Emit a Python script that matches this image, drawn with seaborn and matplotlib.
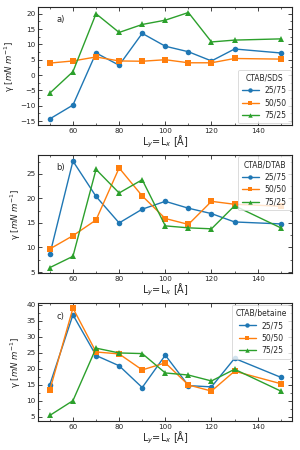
import numpy as np
import pandas as pd
import matplotlib
matplotlib.use("Agg")
import matplotlib.pyplot as plt
import seaborn as sns
from matplotlib.ticker import MultipleLocator

sns.set_style("ticks")
plt.rcParams['font.family'] = ['DejaVu Sans']
plt.rcParams['mathtext.fontset'] = 'dejavusans'

L = [50, 60, 70, 80, 90, 100, 110, 120, 130, 150]
ratios = ["25/75", "50/50", "75/25"]

sds_25_75 = [-14.3, -9.8, 7.2, 3.2, 13.6, 9.4, 7.6, 4.6, 8.5, 7.2]
sds_50_50 = [3.9, 4.6, 5.9, 4.6, 4.5, 5.0, 4.0, 4.0, 5.4, 5.2]
sds_75_25 = [-5.9, 1.1, 20.0, 13.9, 16.5, 17.9, 20.4, 10.8, 11.4, 11.8]

dtab_25_75 = [8.6, 27.6, 20.4, 15.0, 17.8, 19.4, 18.0, 16.9, 15.2, 14.8]
dtab_50_50 = [9.7, 12.4, 15.6, 26.2, 20.5, 15.9, 14.7, 19.4, 18.8, 18.4]
dtab_75_25 = [5.9, 8.2, 25.9, 21.1, 23.8, 14.4, 14.0, 13.8, 18.5, 14.0]

bet_25_75 = [15.1, 36.9, 24.2, 21.0, 14.2, 24.3, 14.8, 14.4, 23.3, 17.4]
bet_50_50 = [13.4, 39.0, 25.3, 24.7, 19.7, 21.9, 15.0, 13.1, 19.3, 15.4]
bet_75_25 = [5.5, 10.1, 26.5, 25.0, 24.8, 18.75, 18.1, 16.25, 19.9, 13.1]

panels = [
    ("a)", "CTAB/SDS", [sds_25_75, sds_50_50, sds_75_25], "lower right", (-16.3, 22.2), 5),
    ("b)", "CTAB/DTAB", [dtab_25_75, dtab_50_50, dtab_75_25], "upper right", (4.8, 28.9), 5),
    ("c)", "CTAB/betaine", [bet_25_75, bet_50_50, bet_75_25], "upper right", (3.75, 40.5), 5),
]

colors = ["#1f77b4", "#ff7f0e", "#2ca02c"]
markers = ["o", "s", "^"]

fig = plt.figure(figsize=(3, 4.5), dpi=100)
W, H = 300, 450
boxes = [(38.3, 7, 292.3, 125), (38.3, 154.7, 292.3, 273), (38.3, 303.3, 292.3, 421)]

for (lab, title, series, loc, ylim, ymaj), (x0, y0, x1, y1) in zip(panels, boxes):
    ax = fig.add_axes([x0 / W, 1 - y1 / H, (x1 - x0) / W, (y1 - y0) / H])
    rows = []
    for r, vals in zip(ratios, series):
        for xv, yv in zip(L, vals):
            rows.append({"L": xv, "gamma": yv, "ratio": r})
    df = pd.DataFrame(rows)
    for r, c, m in zip(ratios, colors, markers):
        sub = df[df["ratio"] == r]
        sns.lineplot(data=sub, x="L", y="gamma", ax=ax, color=c, marker=m,
                     markersize=4, markeredgewidth=0, linewidth=1.0, label=r)
    ax.set_ylim(*ylim)
    ax.set_xlim(45, 155)
    ax.xaxis.set_major_locator(MultipleLocator(20))
    ax.xaxis.set_minor_locator(MultipleLocator(10))
    ax.yaxis.set_major_locator(MultipleLocator(ymaj))
    ax.yaxis.set_minor_locator(MultipleLocator(ymaj / 2))
    ax.tick_params(which="both", direction="in", top=True, right=True, labelsize=5.2, pad=2)
    ax.tick_params(which="major", length=3, width=0.6)
    ax.tick_params(which="minor", length=1.5, width=0.5)
    for s in ax.spines.values():
        s.set_linewidth(0.8)
    ax.set_xlabel(r"L$_y$=L$_x$ [Å]", fontsize=7, labelpad=0)
    ax.set_ylabel(r"γ [$mN$ $m^{-1}$]", fontsize=6.2, labelpad=2)
    ax.text(0.07, 0.93, lab, transform=ax.transAxes, fontsize=6, va="top", ha="left")
    leg = ax.legend(title=title, loc=loc, fontsize=5.5, title_fontsize=5.5,
                    frameon=True, fancybox=True, borderpad=0.5, labelspacing=0.45,
                    handlelength=2.2, handletextpad=0.8, borderaxespad=0.2,
                    markerscale=0.8)
    leg.get_frame().set_linewidth(0.6)

fig.savefig("out.png", dpi=100)
